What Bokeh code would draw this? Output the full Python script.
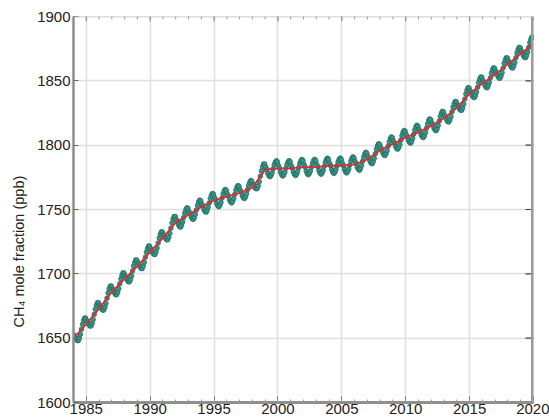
import math
from bokeh.plotting import figure
from bokeh.models import SingleIntervalTicker, Title, ColumnDataSource, Range1d, Span
from bokeh.embed import file_html
from bokeh.resources import INLINE

# ---- data ----
years = list(range(1984, 2020))

# monthly CH4 mole fraction (ppb), Jan..Dec for each year
ch4_1984 = [1652.5, 1651.4, 1649.3, 1648.2, 1648.1, 1650.0, 1653.0, 1656.9, 1660.8, 1663.7, 1665.6, 1665.5]
ch4_1985 = [1663.5, 1662.5, 1660.5, 1659.5, 1659.5, 1661.5, 1664.5, 1668.5, 1672.5, 1675.5, 1677.5, 1677.5]
ch4_1986 = [1675.5, 1674.6, 1672.7, 1671.8, 1671.9, 1674.0, 1677.0, 1681.1, 1685.2, 1688.3, 1690.4, 1690.5]
ch4_1987 = [1688.4, 1687.3, 1685.1, 1683.9, 1683.8, 1685.6, 1688.4, 1692.3, 1696.1, 1698.9, 1700.8, 1700.6]
ch4_1988 = [1698.4, 1697.3, 1695.1, 1693.9, 1693.8, 1695.6, 1698.4, 1702.3, 1706.1, 1708.9, 1710.8, 1710.6]
ch4_1989 = [1708.5, 1707.4, 1705.3, 1704.2, 1704.1, 1706.0, 1709.0, 1712.9, 1716.8, 1719.7, 1721.6, 1721.5]
ch4_1990 = [1719.5, 1718.4, 1716.3, 1715.2, 1715.1, 1717.0, 1720.0, 1723.9, 1727.8, 1730.7, 1732.6, 1732.5]
ch4_1991 = [1730.5, 1729.5, 1727.5, 1726.5, 1726.5, 1728.5, 1731.5, 1735.5, 1739.5, 1742.5, 1744.5, 1744.5]
ch4_1992 = [1742.3, 1740.8, 1738.3, 1736.8, 1736.3, 1737.8, 1740.3, 1743.8, 1747.3, 1749.8, 1751.3, 1750.8]
ch4_1993 = [1748.3, 1746.8, 1744.3, 1742.8, 1742.3, 1743.8, 1746.3, 1749.8, 1753.3, 1755.8, 1757.3, 1756.8]
ch4_1994 = [1754.2, 1752.6, 1750.0, 1748.5, 1747.9, 1749.3, 1751.7, 1755.1, 1758.5, 1761.0, 1762.4, 1761.8]
ch4_1995 = [1759.1, 1757.4, 1754.6, 1752.9, 1752.1, 1753.4, 1755.6, 1758.9, 1762.1, 1764.4, 1765.6, 1764.9]
ch4_1996 = [1762.1, 1760.4, 1757.6, 1755.9, 1755.1, 1756.4, 1758.6, 1761.9, 1765.1, 1767.4, 1768.6, 1767.9]
ch4_1997 = [1765.2, 1763.5, 1760.8, 1759.2, 1758.5, 1759.8, 1762.2, 1765.5, 1768.8, 1771.2, 1772.5, 1771.8]
ch4_1998 = [1769.6, 1768.8, 1766.9, 1766.1, 1766.3, 1768.4, 1771.6, 1775.8, 1779.9, 1783.1, 1785.3, 1785.4]
ch4_1999 = [1783.0, 1781.1, 1778.2, 1776.3, 1775.4, 1776.5, 1778.5, 1781.6, 1784.7, 1786.8, 1787.9, 1787.0]
ch4_2000 = [1784.0, 1782.0, 1779.0, 1777.0, 1776.0, 1777.0, 1779.0, 1782.0, 1785.0, 1787.0, 1788.0, 1787.0]
ch4_2001 = [1784.0, 1782.1, 1779.2, 1777.3, 1776.4, 1777.5, 1779.5, 1782.6, 1785.7, 1787.8, 1788.9, 1788.0]
ch4_2002 = [1785.0, 1783.0, 1780.0, 1778.0, 1777.0, 1778.0, 1780.0, 1783.0, 1786.0, 1788.0, 1789.0, 1788.0]
ch4_2003 = [1785.0, 1783.1, 1780.2, 1778.3, 1777.4, 1778.5, 1780.5, 1783.6, 1786.7, 1788.8, 1789.9, 1789.0]
ch4_2004 = [1786.0, 1784.0, 1781.0, 1779.0, 1778.0, 1779.0, 1781.0, 1784.0, 1787.0, 1789.0, 1790.0, 1789.0]
ch4_2005 = [1786.0, 1784.1, 1781.2, 1779.3, 1778.4, 1779.5, 1781.5, 1784.6, 1787.7, 1789.8, 1790.9, 1790.0]
ch4_2006 = [1787.2, 1785.5, 1782.8, 1781.2, 1780.5, 1781.8, 1784.2, 1787.5, 1790.8, 1793.2, 1794.5, 1793.8]
ch4_2007 = [1791.3, 1789.9, 1787.5, 1786.0, 1785.6, 1787.2, 1789.8, 1793.4, 1797.0, 1799.5, 1801.1, 1800.7]
ch4_2008 = [1798.2, 1796.6, 1794.0, 1792.5, 1791.9, 1793.3, 1795.7, 1799.1, 1802.5, 1805.0, 1806.4, 1805.8]
ch4_2009 = [1803.2, 1801.6, 1799.0, 1797.5, 1796.9, 1798.3, 1800.7, 1804.1, 1807.5, 1810.0, 1811.4, 1810.8]
ch4_2010 = [1808.2, 1806.5, 1803.8, 1802.2, 1801.5, 1802.8, 1805.2, 1808.5, 1811.8, 1814.2, 1815.5, 1814.8]
ch4_2011 = [1812.2, 1810.6, 1808.0, 1806.5, 1805.9, 1807.3, 1809.7, 1813.1, 1816.5, 1819.0, 1820.4, 1819.8]
ch4_2012 = [1817.3, 1815.8, 1813.3, 1811.8, 1811.3, 1812.8, 1815.3, 1818.8, 1822.3, 1824.8, 1826.3, 1825.8]
ch4_2013 = [1823.3, 1822.0, 1819.7, 1818.3, 1818.0, 1819.7, 1822.3, 1826.0, 1829.7, 1832.3, 1834.0, 1833.7]
ch4_2014 = [1831.5, 1830.4, 1828.3, 1827.2, 1827.1, 1829.0, 1832.0, 1835.9, 1839.8, 1842.7, 1844.6, 1844.5]
ch4_2015 = [1842.3, 1841.0, 1838.7, 1837.3, 1837.0, 1838.7, 1841.3, 1845.0, 1848.7, 1851.3, 1853.0, 1852.7]
ch4_2016 = [1850.3, 1848.9, 1846.5, 1845.0, 1844.6, 1846.2, 1848.8, 1852.4, 1856.0, 1858.5, 1860.1, 1859.7]
ch4_2017 = [1857.3, 1856.0, 1853.7, 1852.3, 1852.0, 1853.7, 1856.3, 1860.0, 1863.7, 1866.3, 1868.0, 1867.7]
ch4_2018 = [1865.3, 1864.0, 1861.7, 1860.3, 1860.0, 1861.7, 1864.3, 1868.0, 1871.7, 1874.3, 1876.0, 1875.7]
ch4_2019 = [1873.3, 1872.0, 1869.7, 1868.3, 1868.0, 1869.7, 1872.3, 1876.0, 1879.7, 1882.3, 1884.0, 1883.7]

monthly_by_year = [ch4_1984, ch4_1985, ch4_1986, ch4_1987, ch4_1988, ch4_1989, ch4_1990,
                   ch4_1991, ch4_1992, ch4_1993, ch4_1994, ch4_1995, ch4_1996, ch4_1997,
                   ch4_1998, ch4_1999, ch4_2000, ch4_2001, ch4_2002, ch4_2003, ch4_2004,
                   ch4_2005, ch4_2006, ch4_2007, ch4_2008, ch4_2009, ch4_2010, ch4_2011,
                   ch4_2012, ch4_2013, ch4_2014, ch4_2015, ch4_2016, ch4_2017, ch4_2018,
                   ch4_2019]

# deseasonalised trend (red line), value at the start of each year
trend_years = list(range(1984, 2021))
trend_ch4 = [1650, 1661, 1673, 1686, 1696, 1706, 1717, 1728, 1740, 1746, 1752, 1757, 1760,
             1763, 1767, 1781, 1782, 1782, 1783, 1783, 1784, 1784, 1785, 1789, 1796, 1801,
             1806, 1810, 1815, 1821, 1829, 1840, 1848, 1855, 1863, 1871, 1879]

x_range_years = (1984, 2020)
y_range_ppb = (1600, 1900)
x_minor_tick_years = list(range(1984, 2021))
x_major_tick_years = [1985, 1990, 1995, 2000, 2005, 2010, 2015, 2020]
y_major_ticks = [1650, 1700, 1750, 1800, 1850]
y_label = "CH\u2084 mole fraction (ppb)"

# ---- build monthly time axis ----
t_month, v_month = [], []
for yr, vals in zip(years, monthly_by_year):
    for m, v in enumerate(vals):
        t_month.append(yr + (m + 0.5) / 12.0)
        v_month.append(v)

src = ColumnDataSource(dict(t=t_month, v=v_month))

FONT = "Liberation Sans"

p = figure(width=549, height=420,
           x_range=Range1d(*x_range_years), y_range=Range1d(*y_range_ppb),
           output_backend="svg", toolbar_location=None)
p.min_border_left = 73
p.min_border_right = 16
p.min_border_top = 16
p.min_border_bottom = 18
p.outline_line_color = None
p.background_fill_color = "white"
p.border_fill_color = "white"

xt = SingleIntervalTicker(interval=5, num_minor_ticks=5)
yt = SingleIntervalTicker(interval=50, num_minor_ticks=0)

# bottom axis
ax = p.xaxis[0]
ax.ticker = xt
ax.axis_line_color = "#8f8f8f"
ax.axis_line_width = 3
ax.major_tick_in = 6
ax.major_tick_out = 0
ax.minor_tick_in = 3
ax.minor_tick_out = 0
ax.major_tick_line_color = "#777777"
ax.minor_tick_line_color = "#999999"
ax.major_label_text_font = FONT
ax.major_label_text_font_size = "15px"
ax.major_label_text_color = "#222222"
ax.major_label_standoff = 1

# left axis
ay = p.yaxis[0]
ay.ticker = yt
ay.axis_line_color = "#8f8f8f"
ay.axis_line_width = 2.5
ay.major_tick_in = 5
ay.major_tick_out = 0
ay.minor_tick_line_color = None
ay.major_tick_line_color = "#666666"
ay.major_label_text_font = FONT
ay.major_label_text_font_size = "15px"
ay.major_label_text_color = "#222222"
ay.major_label_standoff = 3

# grids
p.xgrid.ticker = xt
p.ygrid.ticker = yt
p.xgrid.grid_line_color = "#dedede"
p.ygrid.grid_line_color = "#dedede"
p.xgrid.grid_line_width = 1.5
p.ygrid.grid_line_width = 1.5

# y label as a left-side title (positioned like the reference)
ylab = Title(text=y_label, align="left", offset=75, standoff=16,
             text_font=FONT, text_font_size="14.5px", text_font_style="normal",
             text_color="#222222")
p.add_layout(ylab, "left")

# data
p.scatter("t", "v", source=src, size=4.6, fill_color="#35978a",
          line_color="#24695f", line_width=0.8)
p.line(trend_years, trend_ch4, line_color="#e0282e", line_width=1.8)

# top frame edge with small inward ticks (clipped to the frame)
p.scatter(x=x_minor_tick_years, y=[y_range_ppb[1]] * len(x_minor_tick_years),
          marker="dash", angle=math.pi / 2, size=6, line_color="#999999", line_width=1)
p.scatter(x=x_major_tick_years, y=[y_range_ppb[1]] * len(x_major_tick_years),
          marker="dash", angle=math.pi / 2, size=10, line_color="#888888", line_width=1)
p.add_layout(Span(location=y_range_ppb[1], dimension="width",
                  line_color="#bbbbbb", line_width=1.5))

# right edge: inward ticks + thick grey bar
p.scatter(x=[x_range_years[1]] * len(y_major_ticks), y=y_major_ticks,
          marker="dash", size=16, line_color="#444444", line_width=1.2)
p.add_layout(Span(location=x_range_years[1], dimension="height",
                  line_color="#9a9a9a", line_width=5))

open("out.html", "w").write(file_html(p, INLINE))
